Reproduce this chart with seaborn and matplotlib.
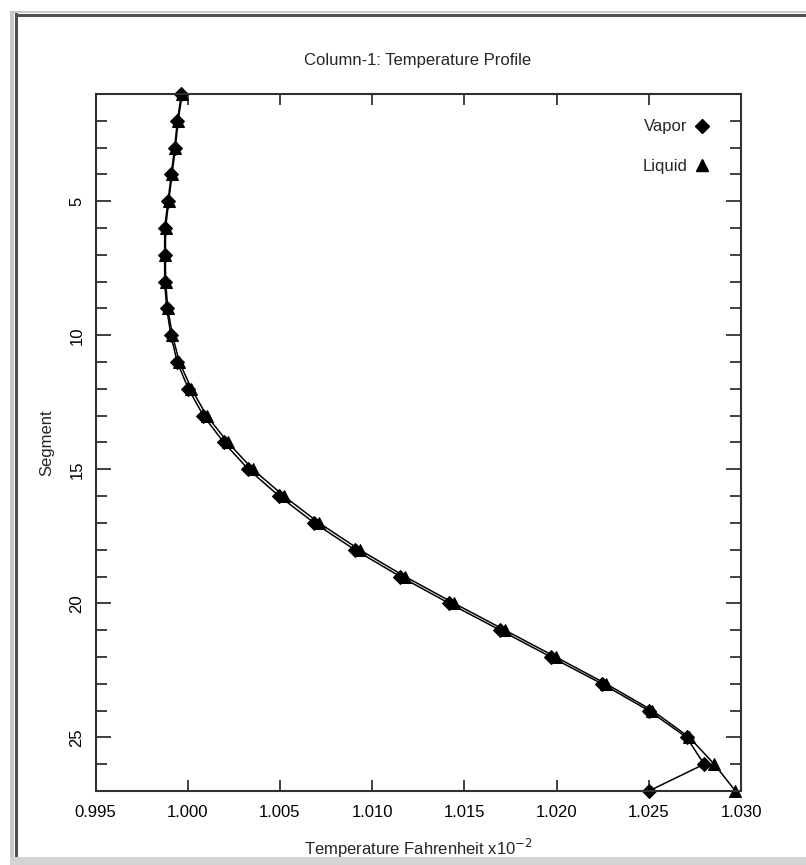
import numpy as np
import pandas as pd
import matplotlib
matplotlib.use("Agg")
import matplotlib.pyplot as plt
from matplotlib.lines import Line2D
from matplotlib.patches import Rectangle
import seaborn as sns

segments = list(range(1, 28))
liquid = [0.99970, 0.99948, 0.99933, 0.99915, 0.99897, 0.99880, 0.99879, 0.99880,
          0.99892, 0.99917, 0.99955, 1.00020, 1.00103, 1.00218, 1.00353, 1.00522,
          1.00712, 1.00932, 1.01178, 1.01445, 1.01720, 1.01995, 1.02268, 1.02520,
          1.02720, 1.02855, 1.02970]
vapor = [0.99966, 0.99944, 0.99929, 0.99911, 0.99893, 0.99875, 0.99875, 0.99875,
         0.99886, 0.99909, 0.99943, 1.00004, 1.00085, 1.00196, 1.00329, 1.00496,
         1.00686, 1.00906, 1.01152, 1.01418, 1.01694, 1.01969, 1.02246, 1.02500,
         1.02705, 1.02800, 1.02500]
x_ticks = [0.995, 1.000, 1.005, 1.010, 1.015, 1.020, 1.025, 1.030]
y_ticks = [5, 10, 15, 20, 25]

sns.set_theme(style="white")
plt.rcParams['font.family'] = ['Liberation Sans', 'DejaVu Sans']

df_v = pd.DataFrame({"Segment": segments, "Temperature": vapor})
df_l = pd.DataFrame({"Segment": segments, "Temperature": liquid})

fig = plt.figure(figsize=(8.06, 8.65), dpi=100)
fig.patch.set_facecolor("white")
W, H = 806, 865
FS = 12

ax = fig.add_axes([95.5 / W, 1 - 791 / H, (741 - 95.5) / W, (791 - 94) / H])
ax.set_facecolor("white")

sns.lineplot(data=df_v, x="Temperature", y="Segment", sort=False, orient="y",
             color="black", lw=1.1, marker="D", markersize=7,
             markeredgecolor="black", markerfacecolor="black", ax=ax, clip_on=False)
sns.lineplot(data=df_l, x="Temperature", y="Segment", sort=False, orient="y",
             color="black", lw=1.1, marker="^", markersize=9,
             markeredgecolor="black", markerfacecolor="black", ax=ax, clip_on=False)

ax.set_xlim(0.995, 1.030)
ax.set_ylim(27, 1)
ax.set_xticks(x_ticks)
ax.set_xticklabels([f"{v:.3f}" for v in x_ticks], fontsize=FS)
ax.set_yticks(y_ticks)
ax.set_yticklabels([str(v) for v in y_ticks], fontsize=FS, rotation=90, va="center")
ax.set_yticks(segments[1:-1], minor=True)

ax.tick_params(axis="x", which="major", direction="in", length=8, width=1.2,
               top=True, bottom=True, pad=10, colors="#202020", labelcolor="black")
ax.tick_params(axis="y", which="major", direction="in", length=11, width=1.2,
               left=True, right=True, pad=8, colors="#202020", labelcolor="black")
ax.tick_params(axis="y", which="minor", direction="in", length=8, width=1.2,
               left=True, right=True, colors="#202020")
for s in ax.spines.values():
    s.set_color("#303030")
    s.set_linewidth(1.5)

ax.set_xlabel("Temperature Fahrenheit x10$^{-2}$", fontsize=FS)
ax.xaxis.set_label_coords(0.5, -(848 - 791) / (791 - 94))
ax.xaxis.label.set_va("center")
ax.set_ylabel("Segment", fontsize=FS)
ax.yaxis.set_label_coords(-(95.5 - 47) / (741 - 95.5), 0.5)
ax.yaxis.label.set_va("center")

fig.text(418 / W, 1 - 61 / H, "Column-1: Temperature Profile", fontsize=FS,
         ha="center", va="center")

handles = [Line2D([], [], color="black", marker="D", linestyle="none", markersize=7),
           Line2D([], [], color="black", marker="^", linestyle="none", markersize=9)]
leg = ax.legend(handles, ["Vapor", "Liquid"], loc="upper right",
                bbox_to_anchor=(0.975, 0.985), frameon=False, markerfirst=False,
                fontsize=FS, labelspacing=1.45, handlelength=1.0, handletextpad=0.35)

# window frame decoration
fig.patches.append(Rectangle((10 / W, 0), 4 / W, 1 - 12 / H, transform=fig.transFigure,
                             facecolor="#c8c8c8", edgecolor="none", figure=fig))
fig.patches.append(Rectangle((15 / W, 0), 3 / W, 1 - 12 / H, transform=fig.transFigure,
                             facecolor="#505050", edgecolor="none", figure=fig))
fig.patches.append(Rectangle((10 / W, 1 - 13 / H), 1 - 10 / W, 2 / H, transform=fig.transFigure,
                             facecolor="#c8c8c8", edgecolor="none", figure=fig))
fig.patches.append(Rectangle((15 / W, 1 - 17 / H), 1 - 15 / W, 3 / H, transform=fig.transFigure,
                             facecolor="#505050", edgecolor="none", figure=fig))
fig.patches.append(Rectangle((10 / W, 0), 1 - 10 / W, 8 / H, transform=fig.transFigure,
                             facecolor="#d4d4d4", edgecolor="none", figure=fig))

fig.savefig("out.png", dpi=100)
